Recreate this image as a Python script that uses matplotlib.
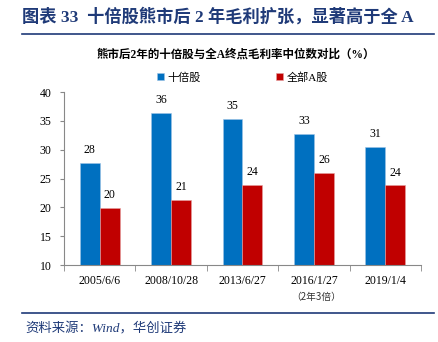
import matplotlib
matplotlib.use("Agg")
import matplotlib.pyplot as plt
import numpy as np

# data
dates = ["2005/6/6", "2008/10/28", "2013/6/27", "2016/1/27", "2019/1/4"]
tenbagger = [27.7, 36.3, 35.4, 32.8, 30.5]
all_a = [19.9, 21.3, 23.9, 26.0, 23.8]
tenbagger_labels = ["28", "36", "35", "33", "31"]
all_a_labels = ["20", "21", "24", "26", "24"]

SERIF_CJK = ["Liberation Serif", "Noto Sans CJK SC"]
BLUE = "#0070C0"
RED = "#C00000"
NAVY = "#1F3A78"

fig = plt.figure(figsize=(4.39, 3.42), dpi=100)
W, H = 439, 342

def fx(px):
    return px / W

def fy(py):
    return 1 - py / H

# header
fig.text(fx(22), fy(17), "图表 33  十倍股熊市后 2 年毛利扩张，显著高于全 A",
         family=SERIF_CJK, fontsize=12.4, fontweight="bold", color=NAVY,
         ha="left", va="center")
fig.add_artist(plt.Line2D([fx(22), fx(434)], [fy(34), fy(34)], color=NAVY, lw=1.2))

fig.text(fx(236), fy(55), "熊市后2年的十倍股与全A终点毛利率中位数对比（%）",
         family=SERIF_CJK, fontsize=8.3, fontweight="bold", color="black",
         ha="center", va="center")

ax = fig.add_axes([fx(64), fy(265), fx(421) - fx(64), fy(92) - fy(265)])

x = np.arange(len(dates))
w = 0.28
b1 = ax.bar(x - w / 2, tenbagger, w, color=BLUE, edgecolor="#9CC3E6", linewidth=0.4,
            label="十倍股")
b2 = ax.bar(x + w / 2, all_a, w, color=RED, edgecolor="#E6A0A0", linewidth=0.4,
            label="全部A股")

for rect, lab in zip(b1, tenbagger_labels):
    ax.text(rect.get_x() + rect.get_width() / 2, rect.get_height() + 1.2, lab,
            ha="center", va="bottom", family="Liberation Serif", fontsize=8.5)
for rect, lab in zip(b2, all_a_labels):
    ax.text(rect.get_x() + rect.get_width() / 2, rect.get_height() + 1.2, lab,
            ha="center", va="bottom", family="Liberation Serif", fontsize=8.5)

ax.set_ylim(10, 40)
ax.set_xlim(-0.5, len(dates) - 0.5)
ax.set_yticks(np.arange(10, 41, 5))
ax.set_xticks(x)
ax.set_xticklabels(dates, family="Liberation Serif", fontsize=8.5)
ax.set_xticks(np.arange(-0.5, len(dates), 1), minor=True)
ax.tick_params(axis="x", which="major", length=0, pad=7)
ax.tick_params(axis="x", which="minor", length=4, color="#888888", direction="out")
ax.tick_params(axis="y", length=3, color="#888888", direction="out", pad=6)
for t in ax.get_yticklabels():
    t.set_family("Liberation Serif")
    t.set_fontsize(8.5)
for s in ["top", "right"]:
    ax.spines[s].set_visible(False)
for s in ["left", "bottom"]:
    ax.spines[s].set_color("#888888")
    ax.spines[s].set_linewidth(0.8)

leg = ax.legend(loc="center", bbox_to_anchor=(0.5, 1.085), ncol=2, frameon=False,
                handlelength=0.6, handleheight=0.6, handletextpad=0.3, columnspacing=6.8,
                prop={"family": SERIF_CJK, "size": 8})

fig.text(fx(316), fy(297), "（2年3倍）", family=["Noto Sans CJK SC"], fontsize=7,
         color="#333333", ha="center", va="center")

# footer
fig.add_artist(plt.Line2D([fx(22), fx(434)], [fy(313), fy(313)], color=NAVY, lw=1.2))
fig.text(fx(25), fy(329), "资料来源：Wind，华创证券", family=SERIF_CJK, fontsize=9.6,
         style="italic", color=NAVY, ha="left", va="center")

fig.savefig("out.png", dpi=100)
